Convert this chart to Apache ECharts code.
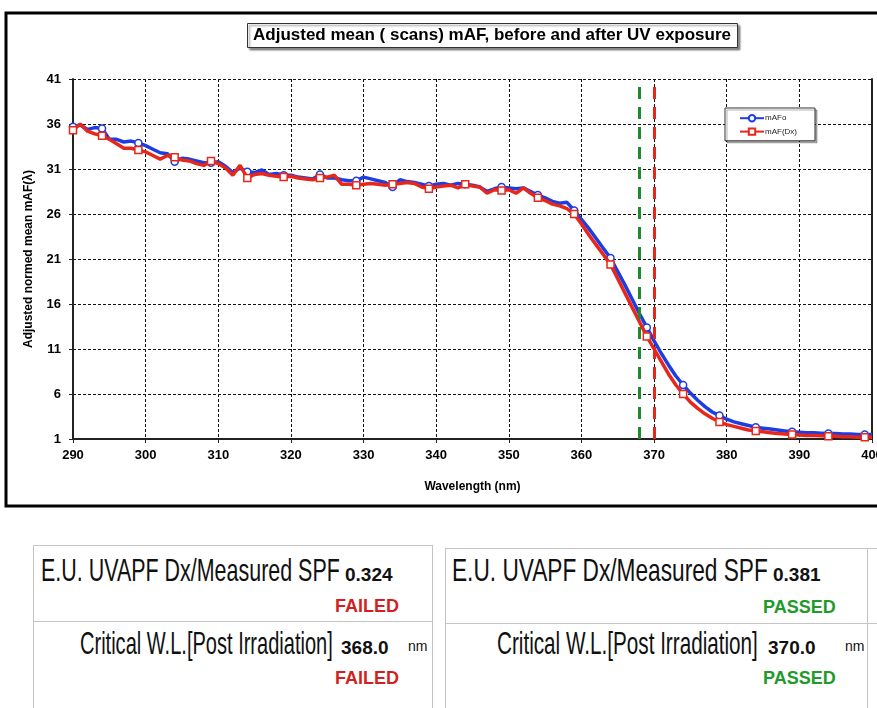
<!DOCTYPE html>
<html>
<head>
<meta charset="utf-8">
<script src="https://cdn.jsdelivr.net/npm/echarts@6/dist/echarts.min.js"></script>
<style>
  html, body { margin: 0; padding: 0; background: #fff; }
  #page { position: relative; width: 877px; height: 708px; overflow: hidden; }
  #chart { position: absolute; left: 0; top: 0; width: 877px; height: 515px; }
  .line { position: absolute; background: #c4c4c4; }
  .t { position: absolute; white-space: nowrap; line-height: 1; }
  .lbl { font-family: "Liberation Sans", sans-serif; font-size: 32px; color: #111; transform-origin: 0 0; }
  .num { font-family: "Liberation Sans", Arial, sans-serif; font-weight: bold; font-size: 19px; color: #111; }
  .unit { font-family: "Liberation Sans", Arial, sans-serif; font-size: 14px; color: #111; }
  .fail { font-family: "Liberation Sans", Arial, sans-serif; font-weight: bold; font-size: 18px; color: #d21f1f; }
  .pass { font-family: "Liberation Sans", Arial, sans-serif; font-weight: bold; font-size: 18px; color: #1f9a2b; }
</style>
</head>
<body>
<div id="page">
  <div id="chart"></div>

  <!-- left result box -->
  <div class="line" style="left:33px;top:545px;width:400px;height:1px"></div>
  <div class="line" style="left:33px;top:545px;width:1px;height:170px"></div>
  <div class="line" style="left:432px;top:545px;width:1px;height:170px"></div>
  <div class="line" style="left:33px;top:621px;width:400px;height:1px"></div>
  <span class="t lbl" data-w="299" style="left:41px;top:554px">E.U. UVAPF Dx/Measured SPF</span>
  <span class="t num" id="r1" style="left:345px;top:565px"></span>
  <span class="t fail" id="s1" style="left:335px;top:597px"></span>
  <span class="t lbl" data-w="253" style="left:80px;top:627px">Critical W.L.[Post Irradiation]</span>
  <span class="t num" id="w1" style="left:341px;top:638px"></span>
  <span class="t unit" style="left:408px;top:639px">nm</span>
  <span class="t fail" id="s2" style="left:335px;top:669px"></span>

  <!-- right result box -->
  <div class="line" style="left:445px;top:548px;width:440px;height:1px"></div>
  <div class="line" style="left:445px;top:548px;width:1px;height:170px"></div>
  <div class="line" style="left:867px;top:548px;width:1px;height:170px"></div>
  <div class="line" style="left:445px;top:623px;width:440px;height:1px"></div>
  <span class="t lbl" data-w="316" style="left:452px;top:554px">E.U. UVAPF Dx/Measured SPF</span>
  <span class="t num" id="r2" style="left:773px;top:565px"></span>
  <span class="t pass" id="s3" style="left:763px;top:598px"></span>
  <span class="t lbl" data-w="261" style="left:497px;top:627px">Critical W.L.[Post Irradiation]</span>
  <span class="t num" id="w2" style="left:768px;top:638px"></span>
  <span class="t unit" style="left:845px;top:639px">nm</span>
  <span class="t pass" id="s4" style="left:763px;top:669px"></span>
</div>

<script>
// wavelengths 290..400 nm, 1 nm step
const wavelengths = [];
for (let w = 290; w <= 400; w++) wavelengths.push(w);

// mAFo (before UV)
const mAFo = [
  35.7, 35.9, 35.4, 35.6, 35.5, 34.3, 34.3, 34.0, 34.1, 33.9,
  33.6, 33.2, 32.8, 32.7, 31.8, 32.2, 32.1, 31.9, 31.7, 31.7,
  31.8, 31.3, 30.6, 31.1, 30.7, 30.6, 30.9, 30.4, 30.5, 30.3,
  30.3, 30.1, 30.0, 29.9, 30.4, 30.0, 30.0, 29.8, 29.7, 29.7,
  30.1, 29.9, 29.7, 29.5, 29.0, 29.8, 29.6, 29.5, 29.3, 29.1,
  29.3, 29.4, 29.2, 29.4, 29.3, 29.2, 29.0, 28.5, 28.8, 29.0,
  28.9, 28.8, 28.9, 28.5, 28.1, 27.8, 27.4, 27.2, 27.3, 26.4,
  25.4, 24.4, 23.3, 22.2, 21.1, 19.6, 18.1, 16.5, 14.9, 13.4,
  11.9, 10.5, 9.2, 8.0, 7.0, 6.1, 5.3, 4.6, 4.0, 3.6,
  3.2, 2.9, 2.7, 2.5, 2.3, 2.2, 2.1, 2.0, 1.9, 1.8,
  1.75, 1.7, 1.7, 1.65, 1.6, 1.6, 1.55, 1.55, 1.5, 1.5,
  1.5
];

// mAF(Dx) (after UV)
const mAFDx = [
  35.3, 36.0, 35.2, 34.9, 34.7, 34.3, 33.8, 33.3, 33.3, 33.1,
  32.9, 32.5, 32.1, 32.5, 32.3, 32.0, 31.9, 31.6, 31.4, 31.9,
  31.6, 31.1, 30.3, 31.4, 30.0, 30.4, 30.5, 30.3, 30.2, 30.1,
  30.2, 30.0, 29.9, 29.8, 30.0, 30.1, 30.3, 29.3, 29.3, 29.2,
  29.3, 29.4, 29.3, 29.2, 29.3, 29.4, 29.5, 29.4, 29.0, 28.8,
  29.0, 29.1, 29.2, 28.9, 29.3, 29.1, 29.0, 28.3, 28.7, 28.6,
  28.7, 28.3, 28.9, 28.3, 27.8, 27.5, 27.1, 26.9, 26.6, 26.0,
  24.9, 23.7, 22.6, 21.5, 20.4, 18.8, 17.2, 15.6, 14.0, 12.4,
  11.0, 9.6, 8.2, 7.0, 6.0, 5.1, 4.4, 3.8, 3.3, 2.9,
  2.6, 2.4, 2.2, 2.0, 1.9, 1.8, 1.7, 1.6, 1.55, 1.5,
  1.45, 1.4, 1.4, 1.35, 1.3, 1.3, 1.25, 1.25, 1.2, 1.2,
  1.2
];

// critical wavelengths (post irradiation): failed / passed
const criticalWL = [368.0, 370.0];
const uvapfRatio = [0.324, 0.381];
const verdicts = ['FAILED', 'PASSED'];

// fill result boxes
document.getElementById('r1').textContent = uvapfRatio[0].toFixed(3);
document.getElementById('r2').textContent = uvapfRatio[1].toFixed(3);
document.getElementById('w1').textContent = criticalWL[0].toFixed(1);
document.getElementById('w2').textContent = criticalWL[1].toFixed(1);
document.getElementById('s1').textContent = verdicts[0];
document.getElementById('s2').textContent = verdicts[0];
document.getElementById('s3').textContent = verdicts[1];
document.getElementById('s4').textContent = verdicts[1];

// squeeze the tall labels to their width
document.querySelectorAll('.lbl').forEach((el) => {
  const k = Number(el.dataset.w) / el.offsetWidth;
  el.style.transform = 'scaleX(' + k + ')';
});

const BLUE = '#1d3de4';
const RED = '#e8261a';

// a marker every 5 nm (plus the first point)
const markerSize = (v) => (v[0] === 290 || (v[0] - 289) % 5 === 0) ? 7 : 0;

const myChart = echarts.init(document.getElementById('chart'), null, { renderer: 'canvas' });

const option = {
  animation: false,
  textStyle: { fontFamily: 'Liberation Sans, Arial, sans-serif' },
  title: {
    text: 'Adjusted mean ( scans) mAF, before and after UV exposure',
    left: 247,
    top: 23,
    padding: [4, 7, 4, 6],
    borderColor: '#333',
    borderWidth: 1,
    backgroundColor: '#fff',
    shadowColor: 'rgba(0,0,0,0.45)',
    shadowOffsetX: 2,
    shadowOffsetY: 2,
    shadowBlur: 2,
    textStyle: { fontSize: 17, fontWeight: 'bold', color: '#000' }
  },
  legend: {
    orient: 'vertical',
    left: 725,
    top: 108,
    padding: [6, 18, 5, 14],
    itemGap: 5,
    itemWidth: 24,
    itemHeight: 8,
    backgroundColor: '#fff',
    borderColor: '#333',
    borderWidth: 1,
    shadowColor: 'rgba(0,0,0,0.3)',
    shadowOffsetX: 2,
    shadowOffsetY: 2,
    textStyle: { fontSize: 8, color: '#222', padding: [0, 0, 0, -4] },
    data: ['mAFo', 'mAF(Dx)']
  },
  grid: { left: 73, right: 5, top: 79, bottom: 76, outerBoundsMode: 'none' },
  xAxis: {
    type: 'value',
    min: 290,
    max: 400,
    interval: 10,
    name: 'Wavelength (nm)',
    nameLocation: 'middle',
    nameGap: 42,
    nameTextStyle: { fontSize: 12, fontWeight: 'bold', color: '#000' },
    axisLine: { lineStyle: { color: '#222', width: 2 } },
    axisTick: { show: true, length: 4, lineStyle: { color: '#222' } },
    axisLabel: { fontSize: 13, fontWeight: 'bold', color: '#000', margin: 10 },
    splitLine: { show: true, lineStyle: { color: '#111', type: [3, 2], width: 1 } }
  },
  yAxis: [
    {
      type: 'value',
      min: 1,
      max: 41,
      interval: 5,
      name: 'Adjusted normed mean mAF(λ)',
      nameLocation: 'middle',
      nameGap: 38,
      nameTextStyle: { fontSize: 12, fontWeight: 'bold', color: '#000' },
      axisLine: { show: true, lineStyle: { color: '#222', width: 2 } },
      axisTick: { show: true, length: 4, lineStyle: { color: '#222' } },
      axisLabel: { fontSize: 13, fontWeight: 'bold', color: '#000', margin: 12 },
      splitLine: { show: true, lineStyle: { color: '#111', type: [3, 2], width: 1 } }
    },
    {
      type: 'value',
      position: 'right',
      min: 1,
      max: 41,
      axisLine: { show: true, lineStyle: { color: '#222', width: 2 } },
      axisTick: { show: false },
      axisLabel: { show: false },
      splitLine: { show: false }
    }
  ],
  graphic: [
    {
      type: 'rect',
      z: -1,
      shape: { x: 6, y: 13, width: 880, height: 493 },
      style: { fill: 'none', stroke: '#000', lineWidth: 3 }
    }
  ],
  series: [
    {
      name: 'mAFo',
      type: 'line',
      data: wavelengths.map((w, i) => [w, mAFo[i]]),
      symbol: 'circle',
      symbolSize: markerSize,
      showAllSymbol: true,
      lineStyle: { color: BLUE, width: 3.5 },
      itemStyle: { color: '#fff', borderColor: BLUE, borderWidth: 1.5 },
      z: 3
    },
    {
      name: 'mAF(Dx)',
      type: 'line',
      data: wavelengths.map((w, i) => [w, mAFDx[i]]),
      symbol: 'rect',
      symbolSize: markerSize,
      showAllSymbol: true,
      lineStyle: { color: RED, width: 3.5 },
      itemStyle: { color: '#fff', borderColor: RED, borderWidth: 1.5 },
      z: 4,
      markLine: {
        silent: true,
        symbol: 'none',
        label: { show: false },
        data: [
          { xAxis: criticalWL[0], lineStyle: { color: '#1e8a2d', width: 3, type: [12, 8] } },
          { xAxis: criticalWL[1], lineStyle: { color: RED, width: 3, type: [12, 8] } }
        ]
      }
    }
  ]
};

myChart.setOption(option);
</script>
</body>
</html>
